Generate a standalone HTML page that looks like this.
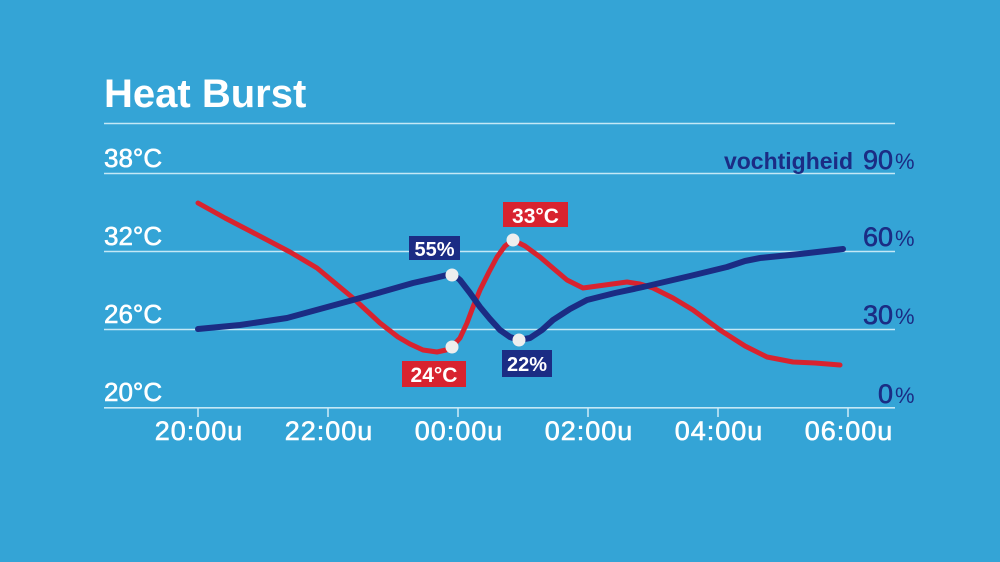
<!DOCTYPE html>
<html><head><meta charset="utf-8"><style>
html,body{margin:0;padding:0;}
body{width:1000px;height:562px;background:#34a4d6;overflow:hidden;font-family:"Liberation Sans",sans-serif;}
svg{display:block}
</style></head><body>
<svg width="1000" height="562" viewBox="0 0 1000 562" xmlns="http://www.w3.org/2000/svg">
<rect width="1000" height="562" fill="#34a4d6"/>
<text x="104" y="107" font-family="Liberation Sans" font-weight="bold" font-size="40" fill="#ffffff">Heat Burst</text>
<g stroke="#c4e8f6" stroke-width="1.6">
<line x1="104" y1="123.5" x2="895" y2="123.5"/>
<line x1="104" y1="173.5" x2="895" y2="173.5"/>
<line x1="104" y1="251.5" x2="895" y2="251.5"/>
<line x1="104" y1="329.5" x2="895" y2="329.5"/>
<line x1="104" y1="407.8" x2="895" y2="407.8"/>
<line x1="198" y1="408" x2="198" y2="417"/>
<line x1="328" y1="408" x2="328" y2="417"/>
<line x1="458" y1="408" x2="458" y2="417"/>
<line x1="588" y1="408" x2="588" y2="417"/>
<line x1="718" y1="408" x2="718" y2="417"/>
<line x1="848" y1="408" x2="848" y2="417"/>
</g>
<g font-family="Liberation Sans" font-size="26" fill="#ffffff" stroke="#ffffff" stroke-width="0.6">
<text x="104" y="167">38°C</text>
<text x="104" y="245">32°C</text>
<text x="104" y="323">26°C</text>
<text x="104" y="401">20°C</text>
</g>
<g font-family="Liberation Sans" font-size="27" fill="#ffffff" stroke="#ffffff" stroke-width="0.6" text-anchor="middle" letter-spacing="1">
<text x="199" y="440">20:00u</text>
<text x="329" y="440">22:00u</text>
<text x="459" y="440">00:00u</text>
<text x="589" y="440">02:00u</text>
<text x="719" y="440">04:00u</text>
<text x="849" y="440">06:00u</text>
</g>
<g font-family="Liberation Sans" fill="#1b2c84">
<text x="853" y="169" font-size="23" font-weight="bold" text-anchor="end">vochtigheid</text>
<g stroke="#1b2c84" stroke-width="0.6">
<text x="893" y="169" font-size="27" text-anchor="end">90</text>
<text x="893" y="246" font-size="27" text-anchor="end">60</text>
<text x="893" y="324" font-size="27" text-anchor="end">30</text>
<text x="893" y="403" font-size="27" text-anchor="end">0</text>
</g>
<text x="895" y="169" font-size="22">%</text>
<text x="895" y="246" font-size="22">%</text>
<text x="895" y="324" font-size="22">%</text>
<text x="895" y="403" font-size="22">%</text>
</g>
<polyline fill="none" stroke="#d8232f" stroke-width="5" stroke-linejoin="round" stroke-linecap="round"
points="198,203 225,218 250,231 290,252 317,268 335,283 353,298 380,323 398,337 410,344 423,350 437,352 446,350 452,347 460,338 467,323 473,307 480,290 489,272 497,257 505,246 513,240 525,246 540,257 554,269 567,280 583,288 605,285 627,282 640,284 653,288 673,298 693,310 720,330 745,346 767,357 793,362 815,363 840,365"/>
<polyline fill="none" stroke="#1b2c84" stroke-width="6" stroke-linejoin="round" stroke-linecap="round"
points="198,329 240,325 287,318 320,309 353,300 385,291 413,283 435,278 447,275 453,274 460,280 470,293 480,307 490,319 500,330 510,337 519,340 530,338 542,330 553,320 570,309 587,300 615,293 643,287 690,276 727,267 745,261 760,258 800,254 843,249"/>
<g fill="#eeeeee">
<circle cx="452" cy="275" r="6.5"/>
<circle cx="452" cy="347" r="6.5"/>
<circle cx="513" cy="240" r="6.5"/>
<circle cx="519" cy="340" r="6.5"/>
</g>
<rect x="409" y="236" width="51" height="24" fill="#1b2c84"/>
<text x="434.5" y="256" font-family="Liberation Sans" font-weight="bold" font-size="20" fill="#ffffff" text-anchor="middle">55%</text>
<rect x="503" y="202" width="65" height="25" fill="#d8232f"/>
<text x="535.5" y="223" font-family="Liberation Sans" font-weight="bold" font-size="21" fill="#ffffff" text-anchor="middle">33°C</text>
<rect x="402" y="361" width="64" height="26" fill="#d8232f"/>
<text x="434" y="382" font-family="Liberation Sans" font-weight="bold" font-size="21" fill="#ffffff" text-anchor="middle">24°C</text>
<rect x="502" y="350" width="50" height="27" fill="#1b2c84"/>
<text x="527" y="371" font-family="Liberation Sans" font-weight="bold" font-size="20" fill="#ffffff" text-anchor="middle">22%</text>
</svg>
</body></html>
